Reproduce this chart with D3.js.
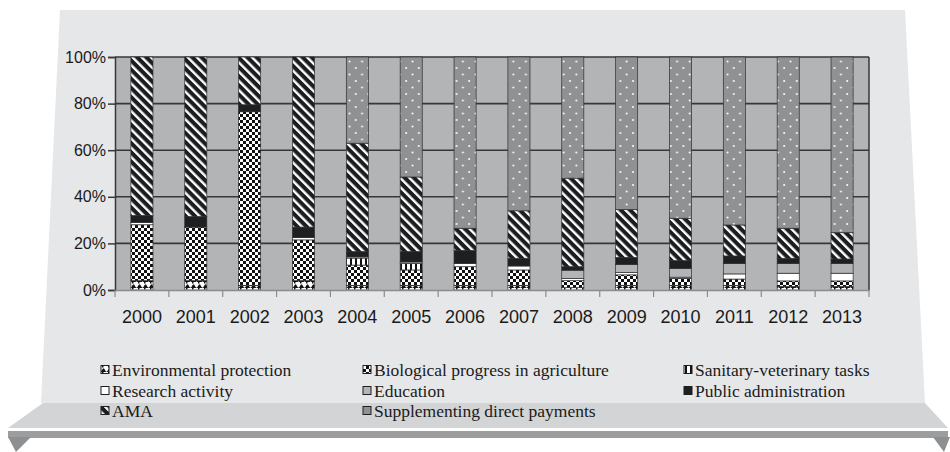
<!DOCTYPE html>
<html><head><meta charset="utf-8">
<script src="https://cdn.jsdelivr.net/npm/d3@7"></script>
<style>html,body{margin:0;padding:0;background:#fff;}svg{display:block;}</style>
</head><body>
<svg id="c" width="950" height="452"></svg>
<script>
const years = ["2000","2001","2002","2003","2004","2005","2006","2007","2008","2009","2010","2011","2012","2013"];
const seriesNames = ["Environmental protection","Biological progress in agriculture","Sanitary-veterinary tasks","Research activity","Education","Public administration","AMA","Supplementing direct payments"];
const envProtection   = [4,4,2,4,2,2,2,2,1,2,2,2,1.5,1.5];
const bioProgress     = [24,23,74.5,17.5,8.7,6.6,8,6.6,3,4.5,3,2.7,2.4,2.4];
const sanitaryVet     = [0,0,0,0,3,2.8,0,0,0,0,0,0,0,0];
const research        = [1,0,0,1,0.5,0.6,1.4,1.7,1,1,0.5,2.2,3.3,3.3];
const education       = [0,0,0,0,0,0,0,0,3.5,3.5,3.8,4.5,4.2,4.2];
const publicAdmin     = [3,4.5,3,4.5,2.3,4.5,5.6,3.3,1.5,3,3.3,3.2,2.2,1.9];
const ama             = [68,68.5,20.5,73,46.5,32,9.5,20.4,38,20.5,18.2,13.3,12.9,11.3];
const supplementing   = [0,0,0,0,37,51.5,73.5,66,52,65.5,69.2,72.1,73.5,75.4];
const yTicks = [0,0.2,0.4,0.6,0.8,1];

const seriesData = [envProtection,bioProgress,sanitaryVet,research,education,publicAdmin,ama,supplementing];
const keys = seriesNames;
const rows = years.map((yr,i)=>{const o={year:yr}; keys.forEach((k,j)=>o[k]=seriesData[j][i]); return o;});

const svg = d3.select("#c");
const defs = svg.append("defs");

// patterns
const pEnv = defs.append("pattern").attr("id","pEnv").attr("patternUnits","userSpaceOnUse").attr("width",6).attr("height",6);
pEnv.append("rect").attr("width",6).attr("height",6).attr("fill","#fff");
pEnv.append("path").attr("d","M0,4 Q1.5,0.5 3,4 T6,4 L6,6 L0,6Z").attr("fill","#111");
pEnv.append("rect").attr("x",0).attr("y",0).attr("width",1.5).attr("height",1.5).attr("fill","#111");

const pBio = defs.append("pattern").attr("id","pBio").attr("patternUnits","userSpaceOnUse").attr("width",6).attr("height",6);
pBio.append("rect").attr("width",6).attr("height",6).attr("fill","#fff");
pBio.append("rect").attr("width",3).attr("height",3).attr("fill","#111");
pBio.append("rect").attr("x",3).attr("y",3).attr("width",3).attr("height",3).attr("fill","#111");

const pSan = defs.append("pattern").attr("id","pSan").attr("patternUnits","userSpaceOnUse").attr("width",5).attr("height",6);
pSan.append("rect").attr("width",5).attr("height",6).attr("fill","#fff");
pSan.append("rect").attr("width",2).attr("height",6).attr("fill","#111");

const pAma = defs.append("pattern").attr("id","pAma").attr("patternUnits","userSpaceOnUse").attr("width",6.5).attr("height",10).attr("patternTransform","rotate(-45)");
pAma.append("rect").attr("width",6.5).attr("height",10).attr("fill","#1c1d1f");
pAma.append("rect").attr("width",2.4).attr("height",10).attr("fill","#fff");

const pSdp = defs.append("pattern").attr("id","pSdp").attr("patternUnits","userSpaceOnUse").attr("width",12.6).attr("height",13);
pSdp.append("rect").attr("width",12.6).attr("height",13).attr("fill","#8f9193");
pSdp.append("circle").attr("cx",3).attr("cy",3).attr("r",1).attr("fill","#fff");
pSdp.append("circle").attr("cx",9.3).attr("cy",9.5).attr("r",1).attr("fill","#fff");

const fills = ["url(#pEnv)","url(#pBio)","url(#pSan)","#ffffff","#b2b4b6","#1e1f21","url(#pAma)","url(#pSdp)"];

// background shapes
svg.append("polygon").attr("points","60,10 905,10 925,403 41,403").attr("fill","#e6e7e9");
svg.append("polygon").attr("points","43,403 925,403 948,428 8,428").attr("fill","#d3d4d6");
svg.append("rect").attr("x",8).attr("y",431).attr("width",940).attr("height",7).attr("fill","#9c9d9f");
svg.append("polygon").attr("points","8,437 31,437 16,452").attr("fill","#8e8f91");
svg.append("polygon").attr("points","933,437 950,437 944,452").attr("fill","#8e8f91");

// scales
const pLeft=115, pRight=869, pTop=57, pBottom=290;
const x = d3.scaleBand().domain(years).range([pLeft,pRight]).paddingInner(0.59).paddingOuter(0.295);
const y = d3.scaleLinear().domain([0,1]).range([pBottom,pTop]);

// plot background
svg.append("rect").attr("x",pLeft).attr("y",pTop).attr("width",pRight-pLeft).attr("height",pBottom-pTop).attr("fill","#b2b4b6");

// gridlines
svg.append("g").selectAll("line").data(yTicks.slice(1)).join("line")
  .attr("x1",pLeft).attr("x2",pRight).attr("y1",d=>y(d)).attr("y2",d=>y(d))
  .attr("stroke","#36373a").attr("stroke-width",1.6);

// bars
const stack = d3.stack().keys(keys).offset(d3.stackOffsetExpand);
const stacked = stack(rows);
const gBars = svg.append("g");
stacked.forEach((s,i)=>{
  gBars.append("g").selectAll("rect").data(s.filter(d=>d[1]-d[0]>0)).join("rect")
    .attr("x",d=>x(d.data.year)).attr("width",x.bandwidth())
    .attr("y",d=>y(d[1])).attr("height",d=>y(d[0])-y(d[1]))
    .attr("fill",fills[i]).attr("stroke","#2e2f31").attr("stroke-width",0.7);
});

// right border
svg.append("line").attr("x1",pRight).attr("x2",pRight).attr("y1",pTop).attr("y2",pBottom).attr("stroke","#36373a").attr("stroke-width",1.5);

// y axis
const yAxis = svg.append("g").attr("transform",`translate(${pLeft},0)`)
  .call(d3.axisLeft(y).tickValues(yTicks).tickFormat(d3.format(".0%")).tickSize(7).tickPadding(2));
yAxis.select(".domain").attr("stroke","#36373a").attr("stroke-width",1.5);
yAxis.selectAll(".tick line").attr("stroke","#36373a").attr("stroke-width",1.5);
yAxis.selectAll("text").attr("font-family","'Liberation Sans', Arial, sans-serif").attr("font-size",16).attr("fill","#1a1a1a");

// x axis
const xAxis = svg.append("g").attr("transform",`translate(0,${pBottom})`)
  .call(d3.axisBottom(x).tickSize(0).tickPadding(20));
xAxis.select(".domain").attr("stroke","#8a8c8e").attr("stroke-width",1.5);
xAxis.selectAll("text").attr("font-family","'Liberation Sans', Arial, sans-serif").attr("font-size",18).attr("fill","#1a1a1a");
const bounds = d3.range(years.length+1).map(i=>pLeft + i*x.step());
svg.append("g").selectAll("line").data(bounds).join("line")
  .attr("x1",d=>d).attr("x2",d=>d).attr("y1",pBottom).attr("y2",pBottom+7)
  .attr("stroke","#8a8c8e").attr("stroke-width",1.2);

// legend
const legPos = [[100,370],[362,370],[683,370],[100,391],[362,391],[683,391],[100,411],[362,411]];
const legend = svg.append("g");
seriesNames.forEach((n,i)=>{
  const [lx,ly] = legPos[i];
  legend.append("rect").attr("x",lx+1).attr("y",ly-4.5).attr("width",8).attr("height",8)
    .attr("fill",fills[i]).attr("stroke","#1e1f21").attr("stroke-width",1);
  legend.append("text").attr("x",lx+12).attr("y",ly+5.5).text(n)
    .attr("font-family","'Liberation Serif', 'Times New Roman', serif").attr("font-size",17.5).attr("fill","#1a1a1a");
});
</script>
</body></html>
